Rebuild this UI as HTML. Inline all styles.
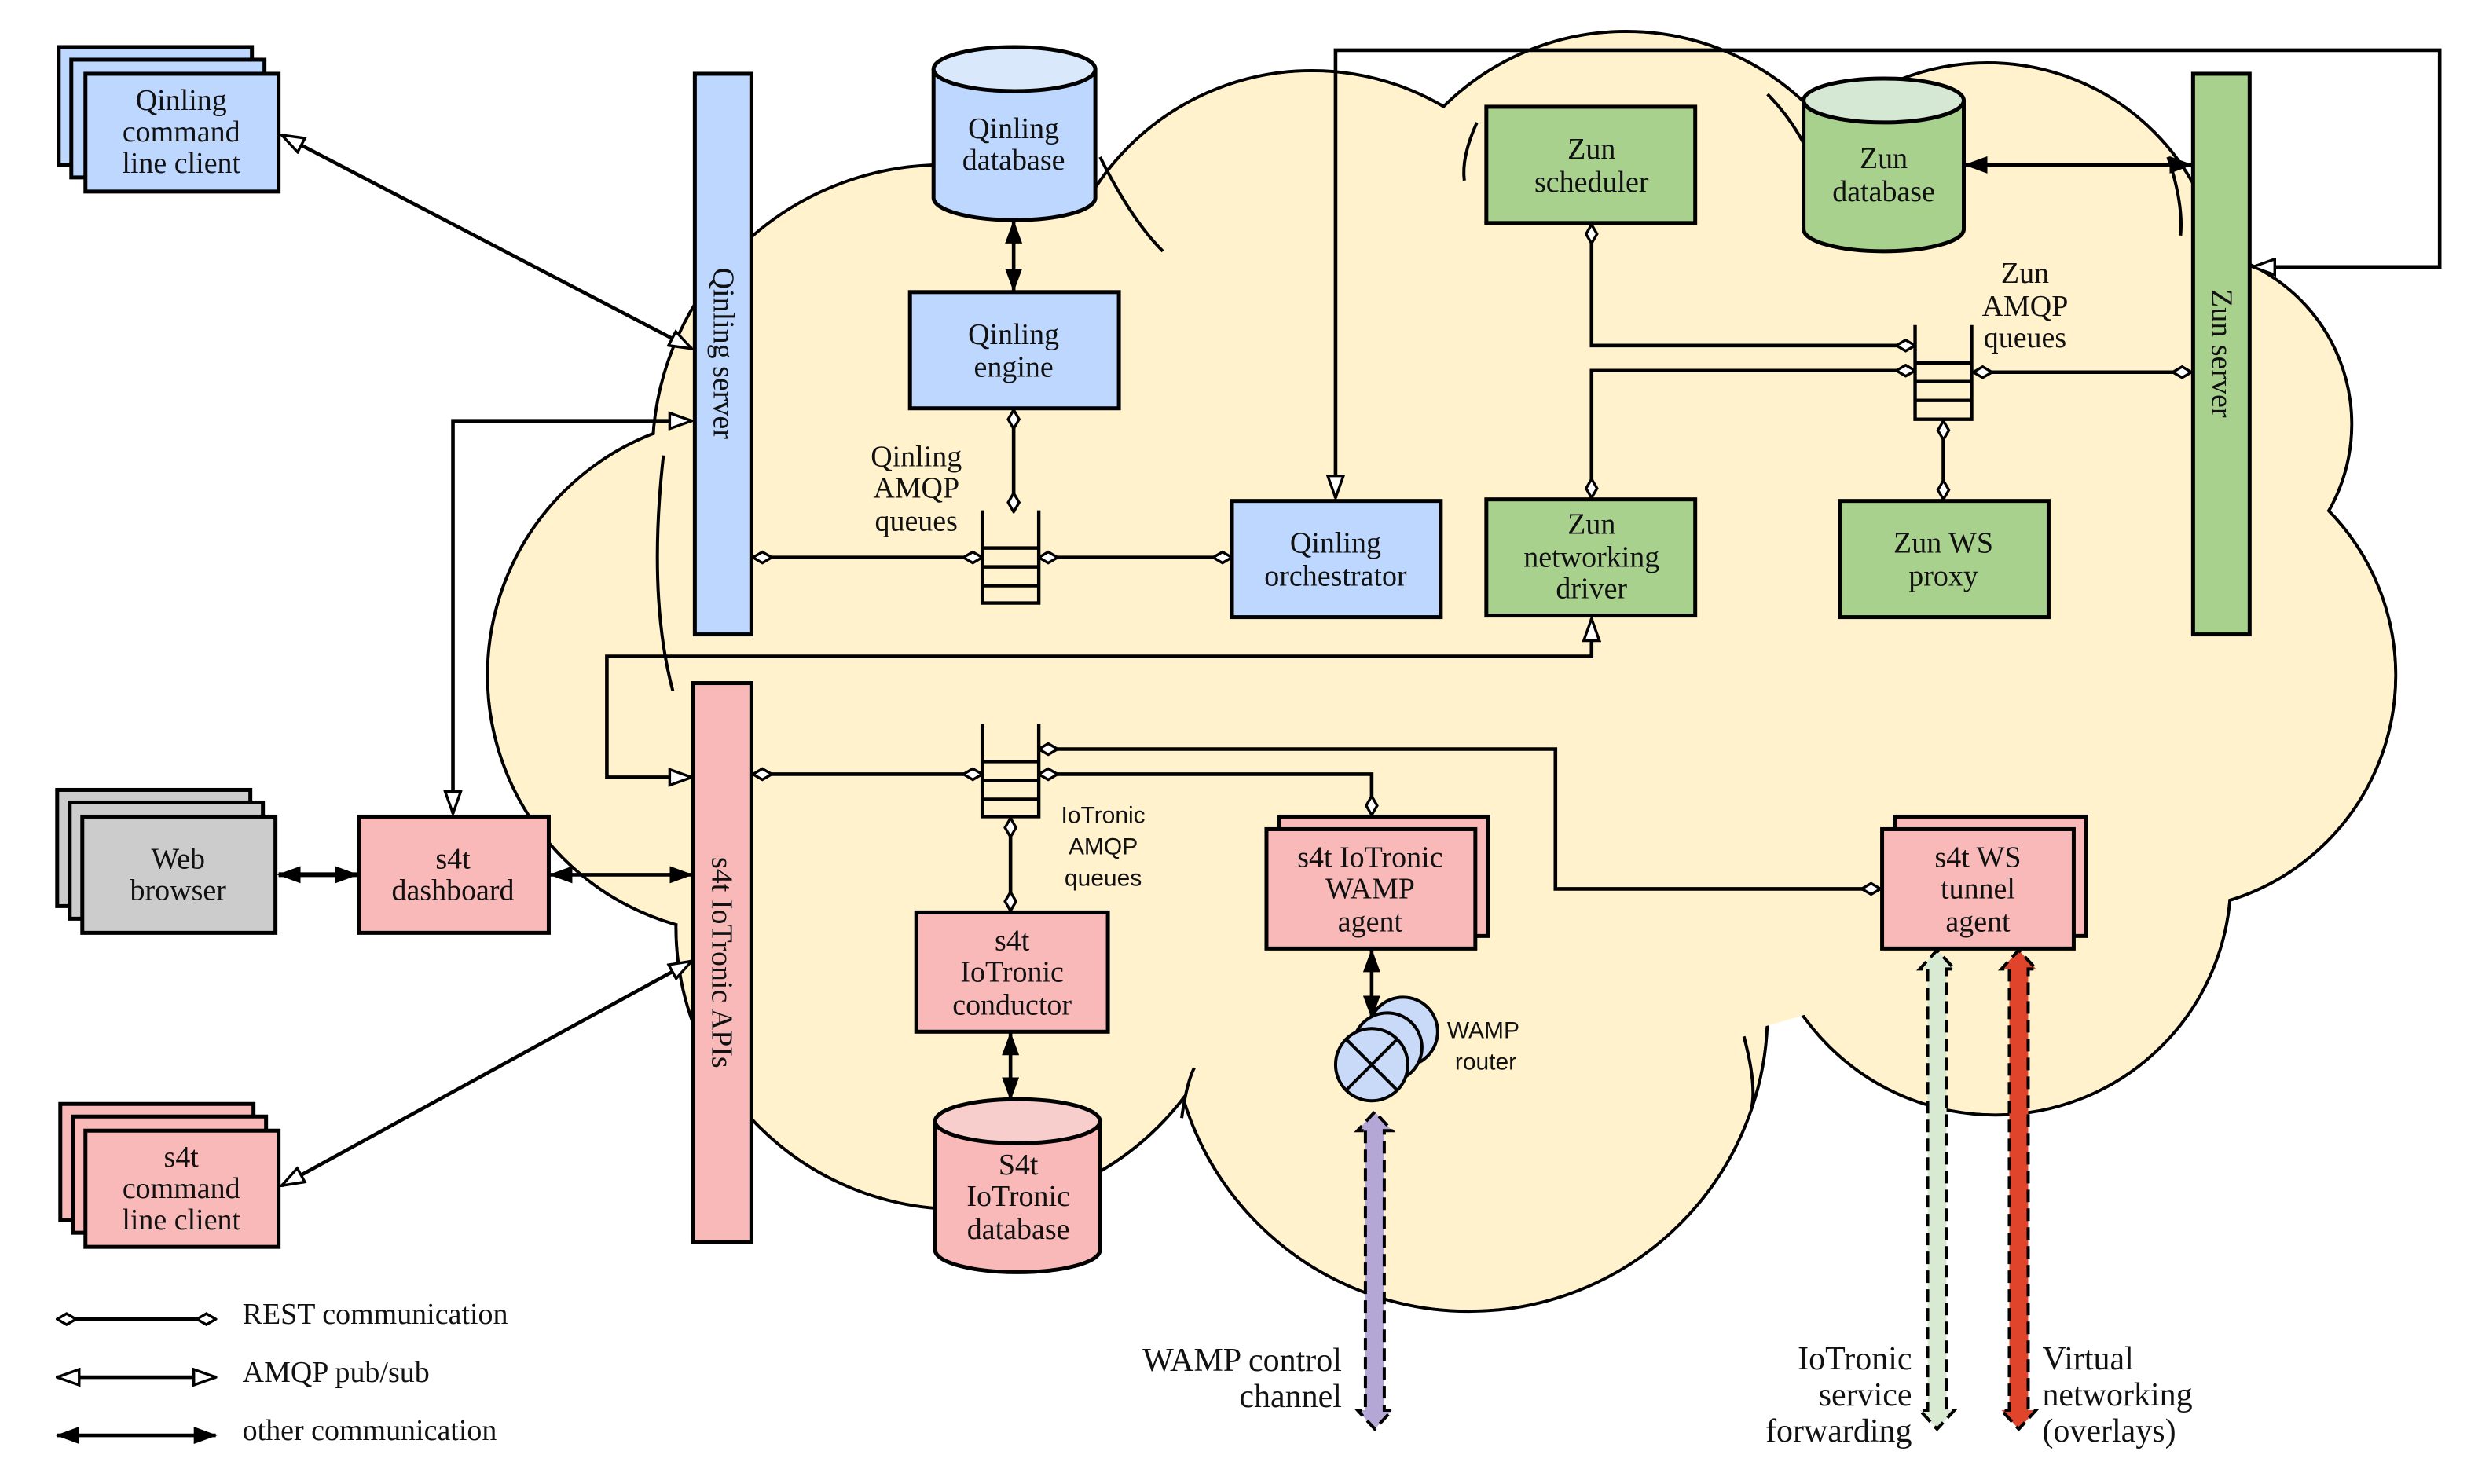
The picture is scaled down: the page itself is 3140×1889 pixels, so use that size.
<!DOCTYPE html>
<html><head><meta charset="utf-8"><style>
html,body{margin:0;padding:0;background:#fff}
svg{display:block}
.s{font-family:"Liberation Serif",serif;font-size:19px;fill:#111}
.a{font-family:"Liberation Sans",sans-serif;font-size:15px;fill:#111}
</style></head><body>
<svg width="3140" height="1889" viewBox="0 0 1570 945" xmlns="http://www.w3.org/2000/svg">
<defs>
<marker id="dia" viewBox="0 0 14 9" refX="13" refY="4.5" markerWidth="14" markerHeight="9" markerUnits="userSpaceOnUse" orient="auto-start-reverse"><path d="M1,4.5 L7,1 L13,4.5 L7,8 Z" fill="#fff" stroke="#000" stroke-width="1.7"/></marker>
<marker id="open" viewBox="0 0 16 12" refX="15" refY="6" markerWidth="16" markerHeight="12" markerUnits="userSpaceOnUse" orient="auto-start-reverse"><path d="M1,1 L15,6 L1,11 Z" fill="#fff" stroke="#000" stroke-width="1.7"/></marker>
<marker id="fill" viewBox="0 0 15 11" refX="14" refY="5.5" markerWidth="15" markerHeight="11" markerUnits="userSpaceOnUse" orient="auto-start-reverse"><path d="M0,0 L15,5.5 L0,11 Z" fill="#000"/></marker>
</defs>
<rect width="1570" height="945" fill="#fff"/>
<g stroke="#000" stroke-width="2" fill="#fff2cc">
<circle cx="600" cy="290" r="185"/>
<circle cx="835" cy="210" r="165"/>
<circle cx="1035" cy="185" r="165"/>
<circle cx="1265" cy="190" r="150"/>
<circle cx="1385" cy="270" r="112"/>
<circle cx="1375" cy="430" r="150"/>
<circle cx="1270" cy="560" r="150"/>
<circle cx="935" cy="645" r="190"/>
<circle cx="610" cy="590" r="180"/>
<circle cx="475" cy="430" r="165"/>
</g>
<g fill="#fff2cc">
<circle cx="600" cy="290" r="184"/>
<circle cx="835" cy="210" r="164"/>
<circle cx="1035" cy="185" r="164"/>
<circle cx="1265" cy="190" r="149"/>
<circle cx="1385" cy="270" r="111"/>
<circle cx="1375" cy="430" r="149"/>
<circle cx="1270" cy="560" r="149"/>
<circle cx="935" cy="645" r="189"/>
<circle cx="610" cy="590" r="179"/>
<circle cx="475" cy="430" r="164"/>
<ellipse cx="920" cy="400" rx="480" ry="280"/>
</g>
<!-- inner arcs -->
<g stroke="#000" stroke-width="2" fill="none">
<path d="M422,290 Q412,380 428,440"/>
<path d="M700,100 Q720,140 740,160"/>
<path d="M940,78 Q930,100 932,115"/>
<path d="M1125,60 Q1140,75 1150,95"/>
<path d="M1380,100 Q1390,130 1388,150"/>
<path d="M1110,660 Q1118,690 1115,705"/>
<path d="M752,712 Q755,690 760,680"/>
</g>

<g stroke="#000" stroke-width="2.3" fill="none">
<line x1="179" y1="86" x2="440" y2="222" marker-start="url(#open)" marker-end="url(#open)"/>
<polyline points="288,518 288,268 440,268" marker-start="url(#open)" marker-end="url(#open)"/>
<line x1="479" y1="355" x2="625" y2="355" marker-start="url(#dia)" marker-end="url(#dia)"/>
<line x1="661" y1="355" x2="784" y2="355" marker-start="url(#dia)" marker-end="url(#dia)"/>
<line x1="645" y1="261" x2="645" y2="326" marker-start="url(#dia)" marker-end="url(#dia)"/>
<line x1="645" y1="141" x2="645" y2="185" marker-start="url(#fill)" marker-end="url(#fill)"/>
<polyline points="850,317 850,32 1553,32 1553,170 1434,170" marker-start="url(#open)" marker-end="url(#open)"/>
<polyline points="1013,143 1013,220 1219,220" marker-start="url(#dia)" marker-end="url(#dia)"/>
<polyline points="1013,317 1013,236 1219,236" marker-start="url(#dia)" marker-end="url(#dia)"/>
<line x1="1256" y1="237" x2="1395" y2="237" marker-start="url(#dia)" marker-end="url(#dia)"/>
<line x1="1237" y1="268" x2="1237" y2="318" marker-start="url(#dia)" marker-end="url(#dia)"/>
<line x1="1251" y1="105" x2="1395" y2="105" marker-start="url(#fill)" marker-end="url(#fill)"/>
<polyline points="1013,394 1013,418 386,418 386,495 440,495" marker-start="url(#open)" marker-end="url(#open)"/>
<line x1="479" y1="493" x2="625" y2="493" marker-start="url(#dia)" marker-end="url(#dia)"/>
<polyline points="661,477 990,477 990,566 1197,566" marker-start="url(#dia)" marker-end="url(#dia)"/>
<polyline points="661,493 873,493 873,519" marker-start="url(#dia)" marker-end="url(#dia)"/>
<line x1="643" y1="521" x2="643" y2="580" marker-start="url(#dia)" marker-end="url(#dia)"/>
<line x1="643" y1="658" x2="643" y2="700" marker-start="url(#fill)" marker-end="url(#fill)"/>
<line x1="873" y1="605" x2="873" y2="648" marker-start="url(#fill)" marker-end="url(#fill)"/>
<line x1="350" y1="557" x2="440" y2="557" marker-start="url(#fill)" marker-end="url(#fill)"/>
<line x1="177" y1="557" x2="227" y2="557" stroke-width="3" marker-start="url(#fill)" marker-end="url(#fill)"/>
<line x1="179" y1="755" x2="440" y2="612" marker-start="url(#open)" marker-end="url(#open)"/>
</g>

<g stroke="#000" stroke-width="2.5">
<rect x="37" y="30" width="123" height="75" fill="#bdd7ff"/>
<rect x="45" y="38" width="123" height="75" fill="#bdd7ff"/>
<rect x="54" y="47" width="123" height="75" fill="#bdd7ff"/>
<rect x="442" y="47" width="36" height="357" fill="#bdd7ff"/>
<rect x="579" y="186" width="133" height="74" fill="#bdd7ff"/>
<rect x="784" y="319" width="133" height="74" fill="#bdd7ff"/>
<rect x="946" y="68" width="133" height="74" fill="#a9d18e"/>
<rect x="1396" y="47" width="36" height="357" fill="#a9d18e"/>
<rect x="946" y="318" width="133" height="74" fill="#a9d18e"/>
<rect x="1171" y="319" width="133" height="74" fill="#a9d18e"/>
<rect x="441" y="435" width="37" height="356" fill="#f8b9b8"/>
<rect x="228" y="520" width="121" height="74" fill="#f8b9b8"/>
<rect x="36" y="503" width="123" height="74" fill="#cccccc"/>
<rect x="44" y="511" width="123" height="74" fill="#cccccc"/>
<rect x="52" y="520" width="123" height="74" fill="#cccccc"/>
<rect x="38" y="703" width="123" height="74" fill="#f8b9b8"/>
<rect x="46" y="711" width="123" height="74" fill="#f8b9b8"/>
<rect x="54" y="720" width="123" height="74" fill="#f8b9b8"/>
<rect x="583" y="581" width="122" height="76" fill="#f8b9b8"/>
<rect x="814" y="520" width="133" height="76" fill="#f8b9b8"/>
<rect x="806" y="528" width="133" height="76" fill="#f8b9b8"/>
<rect x="1206" y="520" width="122" height="76" fill="#f8b9b8"/>
<rect x="1198" y="528" width="122" height="76" fill="#f8b9b8"/>
<path d="M594,44 V126 A51,14 0 0 0 697,126 V44" fill="#bdd7ff"/>
<ellipse cx="645.5" cy="44" rx="51.5" ry="14" fill="#dae8fc"/>
<path d="M1148,64 V146 A51,14 0 0 0 1250,146 V64" fill="#a9d18e"/>
<ellipse cx="1199" cy="64" rx="51" ry="14" fill="#d5e8d4"/>
<path d="M595,714 V796 A52,14 0 0 0 700,796 V714" fill="#f8b9b8"/>
<ellipse cx="647.5" cy="714" rx="52.5" ry="14" fill="#f8cecc"/>
</g>
<g stroke="#000" stroke-width="2.2" fill="none">
<path d="M625,325 V384 H661 V325 M625,349 H661 M625,361 H661 M625,373 H661"/>
<path d="M1219,207 V267 H1255 V207 M1219,231 H1255 M1219,243 H1255 M1219,255 H1255"/>
<path d="M625,461 V520 H661 V461 M625,485 H661 M625,497 H661 M625,509 H661"/>
</g>
<g stroke="#000" stroke-width="2" fill="#c9daf8">
<ellipse cx="893" cy="657" rx="22" ry="22"/>
<ellipse cx="883" cy="667" rx="22" ry="22"/>
<ellipse cx="873" cy="678" rx="23" ry="23"/>
<path d="M857,662 L889,694 M889,662 L857,694" fill="none"/>
</g>
<g stroke="#000" stroke-width="2">
<path d="M869,720 V898 H864 L875,910 L886,898 H881 V720 H886 L875,708 L864,720 Z" fill="#b4a7d6" stroke-dasharray="8,4"/>
<path d="M1227,617 V898 H1222 L1233,910 L1244,898 H1239 V617 H1244 L1233,605 L1222,617 Z" fill="#d9ead3" stroke-dasharray="8,4"/>
<path d="M1279,617 V898 H1274 L1285,910 L1296,898 H1291 V617 H1296 L1285,605 L1274,617 Z" fill="#e0452b" stroke-dasharray="8,4"/>
</g>
<g stroke="#000" stroke-width="2.3" fill="none">
<line x1="36" y1="840" x2="137" y2="840" marker-start="url(#dia)" marker-end="url(#dia)"/>
<line x1="36" y1="877" x2="137" y2="877" marker-start="url(#open)" marker-end="url(#open)"/>
<line x1="36" y1="914" x2="137" y2="914" marker-start="url(#fill)" marker-end="url(#fill)"/>
</g>
<g class="s">
<text x="154" y="843">REST communication</text>
<text x="154" y="880">AMQP pub/sub</text>
<text x="154" y="917">other communication</text>
</g>
<g class="s" text-anchor="middle">
<text x="115" y="70">Qinling</text><text x="115" y="90">command</text><text x="115" y="110">line client</text>
<text x="645" y="88">Qinling</text><text x="645" y="108">database</text>
<text x="645" y="219">Qinling</text><text x="645" y="240">engine</text>
<text x="850" y="352">Qinling</text><text x="850" y="373">orchestrator</text>
<text x="1013" y="101">Zun</text><text x="1013" y="122">scheduler</text>
<text x="1199" y="107">Zun</text><text x="1199" y="128">database</text>
<text x="1013" y="340">Zun</text><text x="1013" y="361">networking</text><text x="1013" y="381">driver</text>
<text x="1237" y="352">Zun WS</text><text x="1237" y="373">proxy</text>
<text x="288" y="553">s4t</text><text x="288" y="573">dashboard</text>
<text x="113" y="553">Web</text><text x="113" y="573">browser</text>
<text x="115" y="743">s4t</text><text x="115" y="763">command</text><text x="115" y="783">line client</text>
<text x="644" y="605">s4t</text><text x="644" y="625">IoTronic</text><text x="644" y="646">conductor</text>
<text x="648" y="748">S4t</text><text x="648" y="768">IoTronic</text><text x="648" y="789">database</text>
<text x="872" y="552">s4t IoTronic</text><text x="872" y="572">WAMP</text><text x="872" y="593">agent</text>
<text x="1259" y="552">s4t WS</text><text x="1259" y="572">tunnel</text><text x="1259" y="593">agent</text>
<text x="583" y="297">Qinling</text><text x="583" y="317">AMQP</text><text x="583" y="338">queues</text>
<text x="1289" y="180">Zun</text><text x="1289" y="201">AMQP</text><text x="1289" y="221">queues</text>
<text transform="translate(454,225) rotate(90)">Qinling server</text>
<text transform="translate(1408,225) rotate(90)">Zun server</text>
<text transform="translate(453,613) rotate(90)">s4t IoTronic APIs</text>
</g>
<g class="a" text-anchor="middle">
<text x="702" y="524">IoTronic</text><text x="702" y="544">AMQP</text><text x="702" y="564">queues</text>
</g>
<g class="a">
<text x="921" y="661">WAMP</text><text x="926" y="681">router</text>
</g>
<g class="s" style="font-size:21px">
<text x="854" y="873" text-anchor="end">WAMP control</text>
<text x="854" y="896" text-anchor="end">channel</text>
<text x="1217" y="872" text-anchor="end">IoTronic</text>
<text x="1217" y="895" text-anchor="end">service</text>
<text x="1217" y="918" text-anchor="end">forwarding</text>
<text x="1300" y="872">Virtual</text>
<text x="1300" y="895">networking</text>
<text x="1300" y="918">(overlays)</text>
</g>
</svg>
</body></html>
